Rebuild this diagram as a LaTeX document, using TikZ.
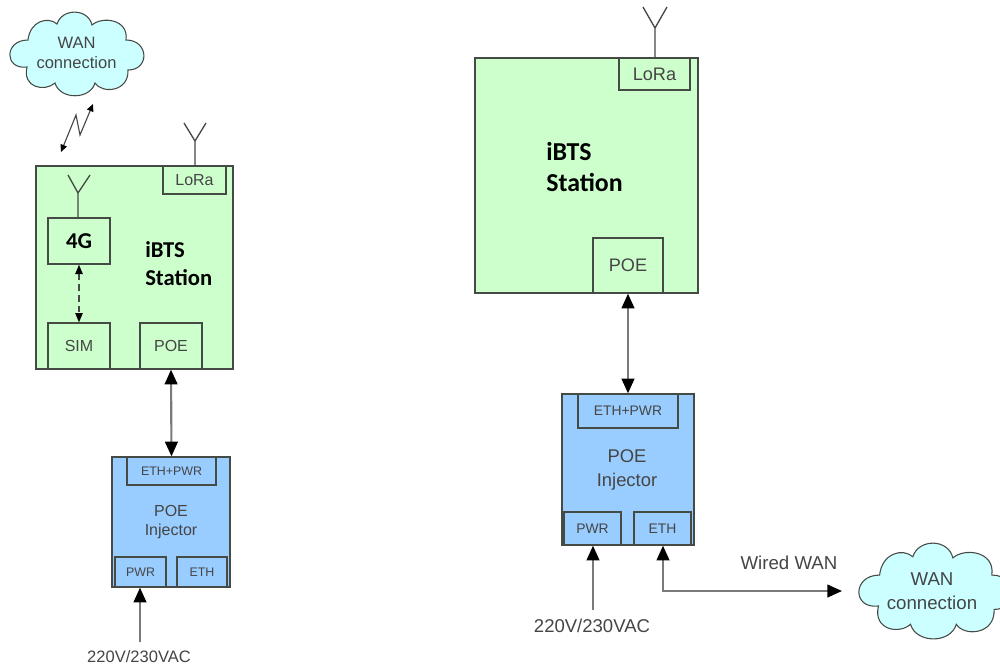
\documentclass[tikz,border=0pt]{standalone}
\usepackage{fontspec}
\setmainfont{Liberation Sans}
\newfontfamily\carlitofont{Carlito}
\usetikzlibrary{arrows.meta}
\definecolor{stationgreen}{HTML}{CCFFCC}
\definecolor{injblue}{HTML}{99CCFF}
\definecolor{cloudcyan}{HTML}{CCFFFF}
\definecolor{lineink}{HTML}{454A45}
\definecolor{textink}{HTML}{454545}
\definecolor{wireink}{HTML}{7A7A7A}
\newcommand{\fsz}[2]{\fontsize{#1}{#2}\selectfont}
% \bx{name}{style}{x1}{y1}{x2}{y2}{text}
\newcommand{\bx}[7]{%
  \pgfmathsetmacro{\bxw}{(#5-#3)*0.75}%
  \pgfmathsetmacro{\bxh}{(#6-#4)*0.75}%
  \pgfmathsetmacro{\bxcx}{(#3+#5)/2}%
  \pgfmathsetmacro{\bxcy}{(#4+#6)/2}%
  \node[#2,minimum width=\bxw pt,minimum height=\bxh pt] (#1) at (\bxcx,\bxcy) {#7};}
% cloud outline; 133 x 83 px at scale 1, top-left at origin
\newcommand{\cloudshape}[3]{%
  \begin{scope}[shift={(#1,#2)},scale=#3,transform shape]
  \filldraw[cloudline]
    (18,28) .. controls (20,9) and (38,4) .. (47,12)
    .. controls (52,-4) and (78,-4) .. (82,13)
    .. controls (92,4) and (119,7) .. (116,28)
    .. controls (139,28) and (140,58) .. (118,58)
    .. controls (119,80) and (92,82) .. (85,71)
    .. controls (80,88) and (50,88) .. (45,71)
    .. controls (35,80) and (12,76) .. (17,55)
    .. controls (-6,58) and (-6,28) .. (18,28) -- cycle;
  \end{scope}}
\tikzset{
  x=0.75pt,y=-0.75pt,
  station/.style={draw=lineink,line width=1pt,fill=stationgreen,inner sep=0pt,text=textink},
  injector/.style={draw=lineink,line width=1pt,fill=injblue,inner sep=0pt,text=textink},
  cloudline/.style={draw=lineink,line width=0.8pt,fill=cloudcyan},
  label/.style={text=textink,inner sep=0pt,align=center},
  boldlabel/.style={text=black,inner sep=0pt,align=left,font=\carlitofont\bfseries},
  bighead/.tip={Triangle[width=9.5pt,length=11pt,color=black]},
  smallhead/.tip={Triangle[width=5.5pt,length=7pt,color=black]},
  tinyhead/.tip={Triangle[width=5pt,length=5.5pt,color=black]},
  wire/.style={draw=wireink,line width=1.6pt,bighead-bighead},
  wireend/.style={draw=wireink,line width=1.6pt,-bighead},
  antennaline/.style={draw=lineink,line width=1pt},
  dashlink/.style={draw=lineink,line width=1pt,dash pattern=on 5pt off 3pt,smallhead-smallhead},
  bolt/.style={draw=lineink,line width=0.85pt,tinyhead-tinyhead},
}
\begin{document}
\begin{tikzpicture}
\useasboundingbox[fill=white] (0,0) rectangle (1000,669);

% ---------- left side ----------
\cloudshape{10}{12}{1}
\node[label,font=\fsz{12.4}{15}] (lwan) at (76.5,53) {WAN\\connection};
\coordinate (lboltA) at (61,152);
\coordinate (lboltB) at (76,115);
\coordinate (lboltC) at (80,135);
\coordinate (lboltD) at (93,104);
\draw[bolt] (lboltA) -- (lboltB) -- (lboltC) -- (lboltD);

\bx{lstation}{station}{36}{166}{233}{369}{}
\bx{llora}{station}{163}{166}{226}{194}{\fsz{12}{14}LoRa}
\bx{lfourg}{station}{48}{218}{110}{264}{\carlitofont\bfseries\fsz{17}{20}\textcolor{black}{4G}}
\bx{lsim}{station}{48}{323}{110}{369}{\fsz{12}{14}SIM}
\bx{lpoe}{station}{140}{323}{202}{369}{\fsz{12}{14}POE}
\node[boldlabel,anchor=west,font=\carlitofont\bfseries\fsz{17}{21}] (ltitle) at (145,264) {iBTS\\Station};

\coordinate (lantA) at (195,141);
\coordinate (lantB) at (184,123);
\coordinate (lantC) at (206,123);
\draw[antennaline] (llora.north -| lantA) -- (lantA) -- (lantB) (lantA) -- (lantC);
\coordinate (lantD) at (78,193);
\coordinate (lantE) at (68,175);
\coordinate (lantF) at (90,175);
\draw[antennaline] (lfourg.north -| lantD) -- (lantD) -- (lantE) (lantD) -- (lantF);
\draw[dashlink] (lfourg.south) -- (lsim.north);

\bx{linj}{injector}{112}{457}{230}{587}{}
\bx{lethpwr}{injector}{127}{457}{216}{485}{\fsz{9.3}{11}ETH+PWR}
\bx{lpwr}{injector}{115}{557}{166}{587}{\fsz{9.3}{11}PWR}
\bx{leth}{injector}{177}{557}{227}{587}{\fsz{9.3}{11}ETH}
\node[label,font=\fsz{12}{14.3}] (linjtext) at (171,522) {POE\\Injector};
\draw[wire] (lpoe.south) -- (lethpwr.north);
\node[label,font=\fsz{12.4}{15}] (lmains) at (139,657) {220V/230VAC};
\coordinate (lmainsin) at (140,642);
\draw[wireend] (lmainsin) -- (lmainsin |- lpwr.south);

% ---------- right side ----------
\bx{rstation}{station}{475}{58}{698}{293}{}
\bx{rlora}{station}{619}{58}{690}{90}{\fsz{13.6}{16}LoRa}
\bx{rpoe}{station}{593}{238}{663}{293}{\fsz{13.6}{16}POE}
\node[boldlabel,anchor=west,font=\carlitofont\bfseries\fsz{19.4}{23.3}] (rtitle) at (546,167) {iBTS\\Station};
\coordinate (rantA) at (655,28);
\coordinate (rantB) at (643,7);
\coordinate (rantC) at (667,7);
\draw[antennaline] (rlora.north -| rantA) -- (rantA) -- (rantB) (rantA) -- (rantC);

\bx{rinj}{injector}{562}{394}{694}{545}{}
\bx{rethpwr}{injector}{578}{394}{678}{428}{\fsz{10.4}{12}ETH+PWR}
\bx{rpwr}{injector}{564}{512}{621}{545}{\fsz{10.4}{12}PWR}
\bx{reth}{injector}{634}{512}{691}{545}{\fsz{10.4}{12}ETH}
\node[label,font=\fsz{13.8}{17.3}] (rinjtext) at (627,470) {POE\\Injector};
\draw[wire] (rpoe.south) -- (rethpwr.north);
\node[label,font=\fsz{13.9}{16}] (rmains) at (592,626) {220V/230VAC};
\coordinate (rmainsin) at (593,610);
\draw[wireend] (rmainsin) -- (rmainsin |- rpwr.south);

\cloudshape{859}{543}{1.145}
\node[label,font=\fsz{14}{18}] (rwan) at (932,591) {WAN\\connection};
\coordinate (rwanin) at (842,591);
\coordinate (rethcorner) at (663,591);
\draw[wire] (reth.south -| rethcorner) -- (rethcorner) -- (rwanin);
\node[label,font=\fsz{14}{16}] (rwired) at (789,563) {Wired WAN};
\end{tikzpicture}
\end{document}
